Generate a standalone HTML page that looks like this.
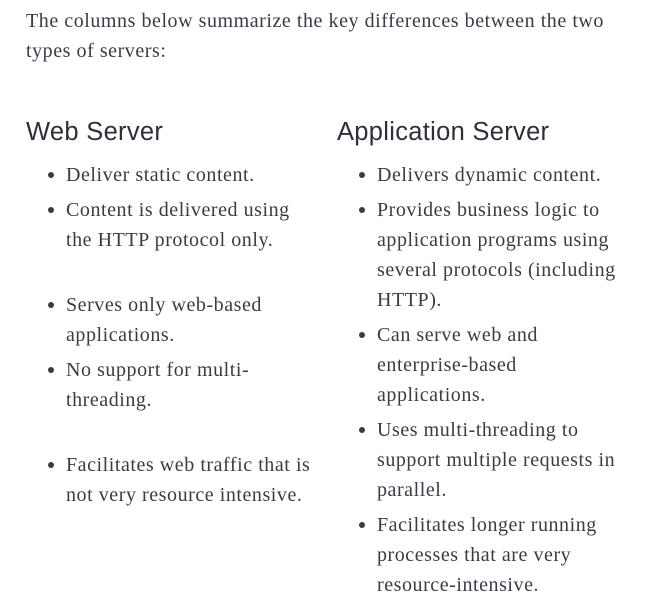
<!DOCTYPE html>
<html><head><style>
body{margin:0;width:658px;height:604px;background:#fff;position:relative;overflow:hidden;color:#3b3a48;font-family:"Liberation Serif",serif;font-size:20px;letter-spacing:0.55px}
.t{position:absolute;line-height:24px;white-space:nowrap}
.h{position:absolute;font-family:"Liberation Sans",sans-serif;font-size:25.5px;line-height:28px;color:#2f2e3a;letter-spacing:0.3px}
.b{position:absolute;width:6px;height:6px;border-radius:50%;background:#3b3a48}
</style></head><body>
<div class="t" style="left:26px;top:9px">The columns below summarize the key differences between the two</div>
<div class="t" style="left:26px;top:39px">types of servers:</div>
<div class="h" style="left:26px;top:118px">Web Server</div>
<div class="h" style="left:337px;top:118px">Application Server</div>

<div class="b" style="left:48px;top:172px"></div><div class="t" style="left:66px;top:163px">Deliver static content.</div>
<div class="b" style="left:48px;top:207px"></div><div class="t" style="left:66px;top:198px">Content is delivered using</div>
<div class="t" style="left:66px;top:228px">the HTTP protocol only.</div>
<div class="b" style="left:48px;top:302px"></div><div class="t" style="left:66px;top:293px">Serves only web-based</div>
<div class="t" style="left:66px;top:323px">applications.</div>
<div class="b" style="left:48px;top:367px"></div><div class="t" style="left:66px;top:358px">No support for multi-</div>
<div class="t" style="left:66px;top:388px">threading.</div>
<div class="b" style="left:48px;top:462px"></div><div class="t" style="left:66px;top:453px">Facilitates web traffic that is</div>
<div class="t" style="left:66px;top:483px">not very resource intensive.</div>

<div class="b" style="left:359px;top:172px"></div><div class="t" style="left:377px;top:163px">Delivers dynamic content.</div>
<div class="b" style="left:359px;top:207px"></div><div class="t" style="left:377px;top:198px">Provides business logic to</div>
<div class="t" style="left:377px;top:228px">application programs using</div>
<div class="t" style="left:377px;top:258px">several protocols (including</div>
<div class="t" style="left:377px;top:288px">HTTP).</div>
<div class="b" style="left:359px;top:332px"></div><div class="t" style="left:377px;top:323px">Can serve web and</div>
<div class="t" style="left:377px;top:353px">enterprise-based</div>
<div class="t" style="left:377px;top:383px">applications.</div>
<div class="b" style="left:359px;top:427px"></div><div class="t" style="left:377px;top:418px">Uses multi-threading to</div>
<div class="t" style="left:377px;top:448px">support multiple requests in</div>
<div class="t" style="left:377px;top:478px">parallel.</div>
<div class="b" style="left:359px;top:522px"></div><div class="t" style="left:377px;top:513px">Facilitates longer running</div>
<div class="t" style="left:377px;top:543px">processes that are very</div>
<div class="t" style="left:377px;top:573px">resource-intensive.</div>
</body></html>
